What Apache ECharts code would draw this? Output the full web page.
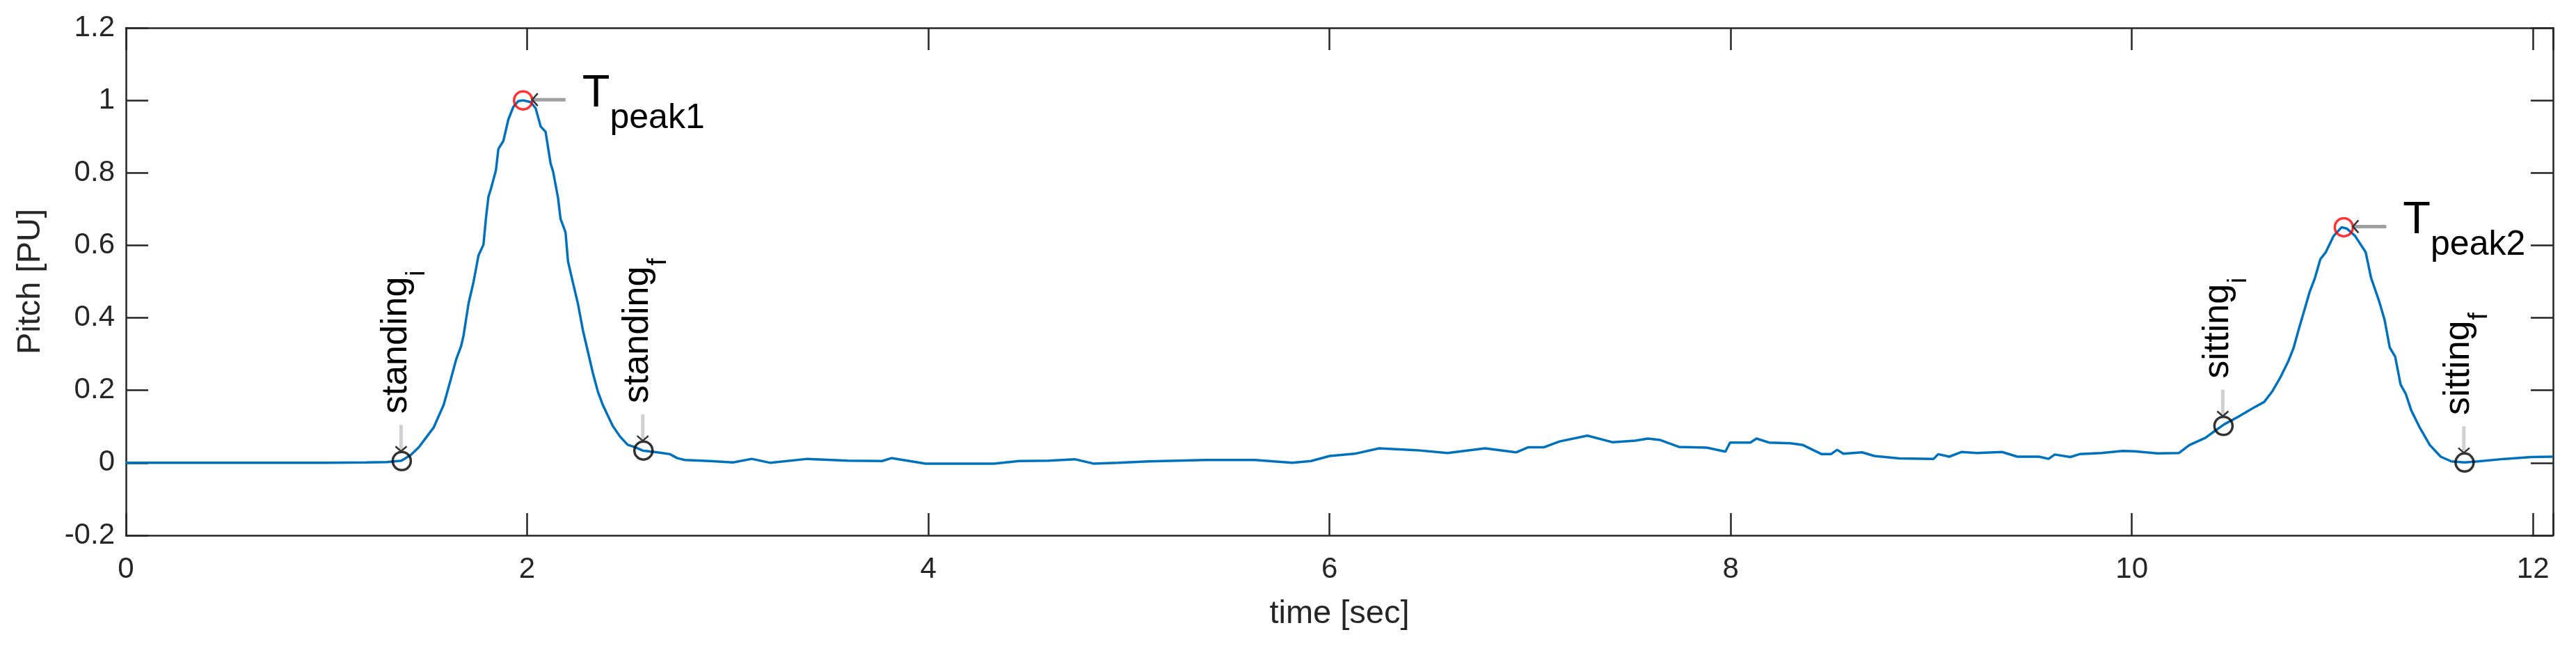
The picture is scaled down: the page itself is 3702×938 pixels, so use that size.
<!DOCTYPE html>
<html><head><meta charset="utf-8">
<script src="https://cdn.jsdelivr.net/npm/echarts@6/dist/echarts.min.js"></script>
<style>html,body{margin:0;padding:0;background:#fff}#chart{width:3702px;height:938px}</style>
</head><body><div id="chart"></div>
<script>
const timeSec = [0,0.5,1.0,1.2,1.3,1.3735,1.42,1.46,1.5346,1.5841,1.6213,1.6461,1.6709,1.6833,1.7081,1.7328,1.7576,1.7824,1.7948,1.8072,1.8196,1.8444,1.8568,1.8816,1.9063,1.9311,1.9559,1.9807,2.0179,2.0427,2.0675,2.0922,2.1170,2.1294,2.1542,2.1666,2.1914,2.2038,2.2285,2.2533,2.2781,2.3029,2.3277,2.3525,2.3772,2.4020,2.4268,2.4640,2.5012,2.5383,2.5755,2.6623,2.7118,2.7490,2.7862,2.9101,3.027,3.12,3.213,3.398,3.6,3.77,3.816,3.986,4.2,4.328,4.452,4.6,4.73,4.823,4.947,5.1,5.381,5.629,5.815,5.908,6.001,6.125,6.248,6.434,6.588,6.776,6.93,6.992,7.07,7.147,7.286,7.41,7.524,7.587,7.649,7.742,7.881,7.974,7.997,8.098,8.129,8.191,8.299,8.361,8.454,8.50,8.531,8.562,8.655,8.717,8.841,9.012,9.035,9.09,9.152,9.229,9.353,9.43,9.538,9.585,9.616,9.693,9.74,9.848,9.954,10.013,10.127,10.234,10.287,10.367,10.414,10.460,10.527,10.607,10.660,10.700,10.740,10.780,10.807,10.833,10.860,10.887,10.913,10.940,10.967,11.006,11.046,11.073,11.113,11.166,11.193,11.233,11.260,11.286,11.313,11.340,11.366,11.393,11.433,11.486,11.540,11.593,11.659,11.726,11.859,11.992,12.1];
const pitchPU = [0,0,0,0.001,0.002,0.006,0.022,0.043,0.098,0.160,0.234,0.285,0.322,0.352,0.440,0.499,0.572,0.602,0.675,0.734,0.756,0.807,0.866,0.888,0.947,0.982,0.998,1.000,0.995,0.978,0.928,0.913,0.826,0.804,0.731,0.673,0.636,0.556,0.497,0.439,0.366,0.307,0.248,0.197,0.160,0.131,0.102,0.072,0.050,0.043,0.034,0.028,0.024,0.013,0.008,0.005,0.001,0.011,0.0,0.011,0.006,0.005,0.013,-0.002,-0.002,-0.002,0.005,0.006,0.010,-0.002,0.0,0.004,0.008,0.008,0.0,0.005,0.019,0.025,0.040,0.035,0.027,0.040,0.029,0.043,0.043,0.059,0.075,0.057,0.061,0.067,0.063,0.044,0.042,0.031,0.056,0.056,0.067,0.056,0.054,0.049,0.024,0.024,0.036,0.025,0.029,0.019,0.012,0.011,0.024,0.017,0.030,0.027,0.030,0.017,0.017,0.011,0.023,0.016,0.024,0.027,0.033,0.032,0.026,0.027,0.049,0.069,0.088,0.106,0.126,0.152,0.168,0.197,0.235,0.280,0.318,0.370,0.421,0.472,0.510,0.562,0.581,0.626,0.650,0.646,0.626,0.581,0.510,0.446,0.395,0.318,0.293,0.216,0.190,0.145,0.100,0.049,0.017,0.004,0.001,0.004,0.011,0.016,0.017];
const xTicks = [0,2,4,6,8,10,12];
const yTicks = [-0.2,0,0.2,0.4,0.6,0.8,1,1.2];
const xMax = 12.1;
const eventLabels = ['standing','standing','sitting','sitting'];
const eventSubs = ['i','f','i','f'];
const eventTimes = [1.375,2.58,10.457,11.659];
const eventValues = [0.005,0.034,0.102,0.001];
const peakLabels = ['T','T'];
const peakSubs = ['peak1','peak2'];
const peakTimes = [1.98,11.057];
const peakValues = [1.0,0.65];

const FONT = '"Liberation Sans", Arial, Helvetica, sans-serif';
const AX = '#262626';
const chart = echarts.init(document.getElementById('chart'), null, {renderer:'canvas'});

function onTick(list, v){ return list.some(t => Math.abs(t - v) < 1e-6); }
function xAxisCfg(pos, showLabel){
  return {
    type:'value', position:pos, min:xTicks[0], max:xMax, interval:xTicks[1]-xTicks[0],
    name: showLabel ? 'time [sec]' : '', nameLocation:'middle', nameGap:90,
    nameTextStyle:{fontFamily:FONT, fontSize:47, color:AX},
    axisLine:{show:true, onZero:false, lineStyle:{color:AX, width:2.5}},
    axisTick:{show:true, inside:true, length:32, lineStyle:{color:AX, width:2.5}},
    axisLabel:{show:showLabel, margin:28, fontFamily:FONT, fontSize:42, color:AX,
      formatter: v => onTick(xTicks, v) ? String(Math.round(v*1000)/1000) : ''},
    splitLine:{show:false}
  };
}
function yAxisCfg(pos, showLabel){
  return {
    type:'value', position:pos, min:yTicks[0], max:yTicks[yTicks.length-1], interval:0.2,
    name: showLabel ? 'Pitch [PU]' : '', nameLocation:'middle', nameGap:113, nameRotate:90,
    nameTextStyle:{fontFamily:FONT, fontSize:47, color:AX},
    axisLine:{show:true, onZero:false, lineStyle:{color:AX, width:2.5}},
    axisTick:{show:true, inside:true, length:32, lineStyle:{color:AX, width:2.5}},
    axisLabel:{show:showLabel, margin:16, fontFamily:FONT, fontSize:42, color:AX,
      formatter: v => onTick(yTicks, v) ? String(Math.round(v*1000)/1000) : ''},
    splitLine:{show:false}
  };
}

chart.setOption({
  animation:false,
  backgroundColor:'#ffffff',
  grid:{left:181, right:33, top:40, bottom:169, containLabel:false, outerBoundsMode:'none'},
  xAxis:[xAxisCfg('bottom', true), xAxisCfg('top', false)],
  yAxis:[yAxisCfg('left', true), yAxisCfg('right', false)],
  series:[
    {type:'line', xAxisIndex:0, yAxisIndex:0, data: timeSec.map((t,i)=>[t, pitchPU[i]]),
     showSymbol:false, symbol:'none', lineStyle:{color:'#0072BD', width:3.5}, z:2},
    {type:'scatter', xAxisIndex:0, yAxisIndex:0, data: eventTimes.map((t,i)=>[t, eventValues[i]]),
     symbol:'circle', symbolSize:26, itemStyle:{color:'rgba(0,0,0,0)', borderColor:'#000000', borderWidth:3.5}, z:3},
    {type:'scatter', xAxisIndex:0, yAxisIndex:0, data: peakTimes.map((t,i)=>[t, peakValues[i]]),
     symbol:'circle', symbolSize:26, itemStyle:{color:'rgba(0,0,0,0)', borderColor:'#FF0000', borderWidth:3.5}, z:3}
  ]
});

const mctx = document.createElement('canvas').getContext('2d');
function measure(text, size){ mctx.font = size + 'px ' + FONT; return mctx.measureText(text).width; }

const g = [];
eventTimes.forEach((t,i) => {
  const p = chart.convertToPixel({xAxisIndex:0, yAxisIndex:0}, [t, eventValues[i]]);
  const px = p[0], py = p[1];
  g.push({type:'line', shape:{x1:px-1, y1:py-17, x2:px-1, y2:py-52}, style:{stroke:'#d0d0d0', lineWidth:5}, z:10});
  g.push({type:'polyline', shape:{points:[[px-9,py-21],[px-1,py-14],[px+7,py-21]]}, style:{stroke:'#333333', lineWidth:2.5, fill:null}, z:11});
  const w = measure(eventLabels[i], 52);
  g.push({type:'group', x:px, y:py, rotation:Math.PI/2, z:12, children:[
    {type:'text', x:68, y:-8, style:{text:eventLabels[i], font:'52px ' + FONT, fill:'#000000', align:'left', verticalAlign:'middle', textAlign:'left', textVerticalAlign:'middle'}},
    {type:'text', x:68 + w + 1, y:22, style:{text:eventSubs[i], font:'38px ' + FONT, fill:'#000000', align:'left', verticalAlign:'middle', textAlign:'left', textVerticalAlign:'middle'}}
  ]});
});
peakTimes.forEach((t,i) => {
  const p = chart.convertToPixel({xAxisIndex:0, yAxisIndex:0}, [t, peakValues[i]]);
  const px = p[0], py = p[1];
  g.push({type:'line', shape:{x1:px+14, y1:py-1, x2:px+61, y2:py-1}, style:{stroke:'#a0a0a0', lineWidth:5}, z:10});
  g.push({type:'polyline', shape:{points:[[px+21,py-10],[px+13,py-1],[px+21,py+8]]}, style:{stroke:'#333333', lineWidth:2.5, fill:null}, z:11});
  const wT = measure(peakLabels[i], 65);
  g.push({type:'text', x:px+85, y:py-9.5, z:12, style:{text:peakLabels[i], font:'65px ' + FONT, fill:'#000000', align:'left', verticalAlign:'middle', textAlign:'left', textVerticalAlign:'middle'}});
  g.push({type:'text', x:px+85+wT, y:py+25.7, z:12, style:{text:peakSubs[i], font:'50px ' + FONT, fill:'#000000', align:'left', verticalAlign:'middle', textAlign:'left', textVerticalAlign:'middle'}});
});
chart.setOption({graphic:g});
</script>
</body></html>
